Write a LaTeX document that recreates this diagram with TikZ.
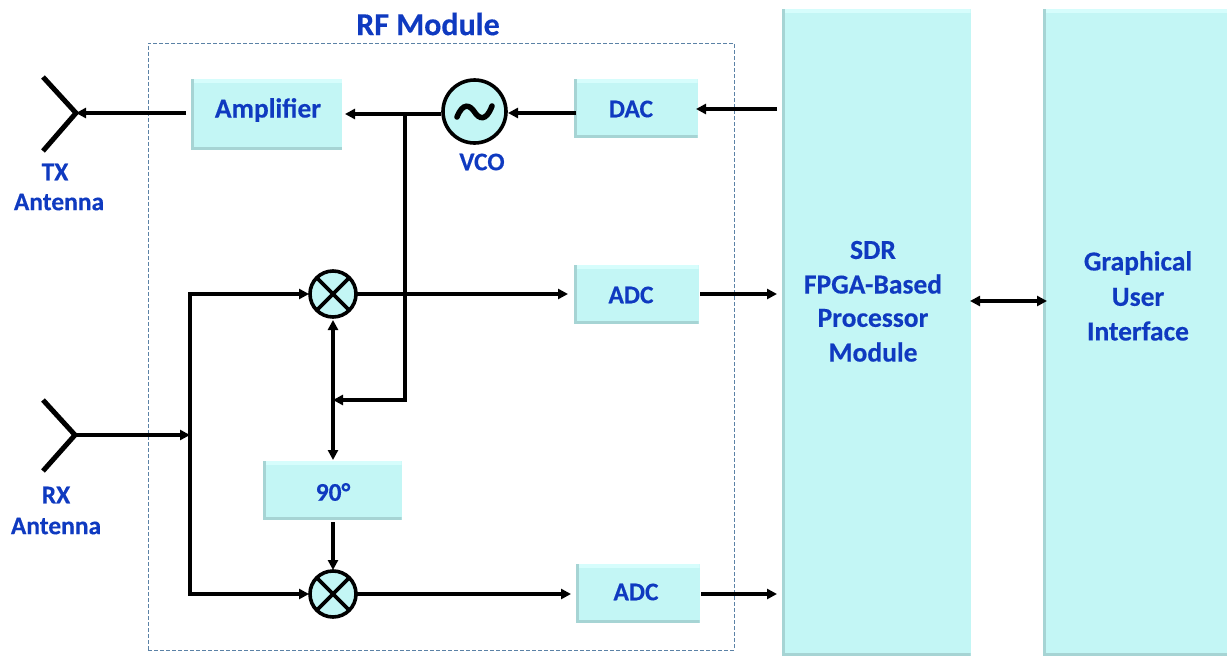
\documentclass[tikz,border=0pt]{standalone}
\usepackage{fontspec}
\setmainfont[BoldFeatures={FakeBold=0.3}]{Carlito}
\usetikzlibrary{arrows.meta,calc}
\definecolor{boxfill}{HTML}{C3F6F5}
\definecolor{boxlight}{HTML}{D6FDFC}
\definecolor{boxdark}{HTML}{A6D4D4}
\definecolor{labelblue}{HTML}{0F3AC0}
\definecolor{dashblue}{HTML}{5B82A6}
\tikzset{
  x=1pt,y=-1pt,
  >={Triangle[length=10pt,width=10pt]},
  conn/.style={line width=3.3pt,black},
  lbl/.style={font=\bfseries\fontsize{27.5}{28}\selectfont,text=labelblue,inner sep=0pt,align=center},
  smalllbl/.style={lbl,font=\bfseries\fontsize{25.5}{26}\selectfont},
  bevelbox/.style={rectangle,draw=none,fill=boxfill,inner sep=0pt,
    path picture={
      \fill[boxlight] (path picture bounding box.north west) rectangle
        ([yshift=-4pt]path picture bounding box.north east);
      \fill[boxdark] (path picture bounding box.south west) rectangle
        ([yshift=3pt]path picture bounding box.south east);
      \fill[boxdark] (path picture bounding box.north west) rectangle
        ([xshift=3pt]path picture bounding box.south west);
    }},
  mixer/.style={circle,draw=black,line width=3.6pt,fill=boxfill,minimum size=46pt,inner sep=0pt,
    path picture={
      \draw[line width=3.6pt] (path picture bounding box.north west)--(path picture bounding box.south east);
      \draw[line width=3.6pt] (path picture bounding box.south west)--(path picture bounding box.north east);
    }},
  osc/.style={circle,draw=black,line width=3.6pt,fill=boxfill,minimum size=63pt,inner sep=0pt},
  ant/.style={line width=5pt,black,line join=miter},
}
\begin{document}
\begin{tikzpicture}
\useasboundingbox (0,0) rectangle (1227,656);
% module frame
\node[draw=dashblue,dash pattern=on 4pt off 2pt,line width=1pt,minimum width=586pt,minimum height=607pt,inner sep=0pt] (frame) at (441,346.5) {};
\node[lbl,font=\bfseries\fontsize{32}{32}\selectfont] (rftitle) at (428,24) {RF Module};
% boxes
\node[bevelbox,minimum width=151pt,minimum height=71pt] (amp) at (266.5,114.5) {};
\node[lbl] (amptxt) at (268,110) {Amplifier};
\node[bevelbox,minimum width=124pt,minimum height=59pt] (dac) at (635.5,108.5) {};
\node[smalllbl] (dactxt) at (631,109) {DAC};
\node[bevelbox,minimum width=125pt,minimum height=59pt] (adca) at (636,294.5) {};
\node[smalllbl] (adcatxt) at (631,295) {ADC};
\node[bevelbox,minimum width=124pt,minimum height=59pt] (adcb) at (637.5,593.5) {};
\node[smalllbl] (adcbtxt) at (636,592) {ADC};
\node[bevelbox,minimum width=139pt,minimum height=59pt] (shift) at (332,490.5) {};
\node[smalllbl] (shifttxt) at (333,492) {90°};
\node[bevelbox,minimum width=189pt,minimum height=647pt] (sdr) at (876,332.5) {};
\node[lbl] (sdr1) at (873,250) {SDR};
\node[lbl] (sdr2) at (873,284) {FPGA-Based};
\node[lbl] (sdr3) at (873,318) {Processor};
\node[lbl] (sdr4) at (873,352) {Module};
\node[bevelbox,minimum width=192pt,minimum height=647pt] (gui) at (1139,332.5) {};
\node[lbl] (gui1) at (1138,263) {Graphical};
\node[lbl] (gui2) at (1138,297) {User};
\node[lbl] (gui3) at (1138,331) {Interface};
% round elements
\node[osc] (vco) at (474.5,111.5) {};
\draw[line width=5.5pt,line cap=round] (457,117) .. controls (463,102) and (470,105) .. (474.5,112) .. controls (479,119) and (486,122) .. (492,106);
\node[smalllbl] (vcotxt) at (482,162) {VCO};
\node[mixer] (mixa) at (333,294) {};
\node[mixer] (mixb) at (333,594) {};
% antennas
\coordinate (txtip) at (76,113);
\coordinate (txa) at (43,77);
\coordinate (txb) at (43,151);
\coordinate (rxtip) at (75,435);
\coordinate (rxa) at (43,400);
\coordinate (rxb) at (43,471);
\draw[ant] (txa)--(txtip)--(txb);
\draw[ant] (rxa)--(rxtip)--(rxb);
\node[smalllbl] (txl1) at (55,172) {TX};
\node[smalllbl] (txl2) at (59,202) {Antenna};
\node[smalllbl] (rxl1) at (56,495) {RX};
\node[smalllbl] (rxl2) at (56,526) {Antenna};
% free coordinates
\coordinate (ampl) at (186,113);
\coordinate (ampr) at (345,114);
\coordinate (vcol) at (441,114);
\coordinate (branch) at (405,114);
\coordinate (bend) at (405,400);
\coordinate (tee) at (333,400);
\coordinate (dacr) at (696,109);
\coordinate (sdrdac) at (777,109);
\coordinate (rxbus) at (190,435);
\coordinate (bustop) at (190,294);
\coordinate (busbot) at (190,594);
\coordinate (sdra) at (777,294);
\coordinate (sdrb) at (777,594);
\coordinate (adcal) at (568,294);
\coordinate (adcbl) at (571,594);
\coordinate (adcar) at (700,294);
\coordinate (adcbr) at (701,594);
\coordinate (sdrgui) at (970,301);
\coordinate (guisdr) at (1047,301);
\coordinate (dacl) at (576,113);
\coordinate (vcor) at (508,113);
\coordinate (mixabot) at (333,320);
\coordinate (shifttop) at (333,460);
\coordinate (shiftbot) at (333,522);
\coordinate (mixbtop) at (333,570);
\coordinate (mixain) at (309,294);
\coordinate (mixbin) at (309,594);
\coordinate (mixaout) at (357,294);
\coordinate (mixbout) at (357,594);
% connectors
\draw[conn,->] (ampl)--(txtip);
\draw[conn,->] (vcol)--(ampr);
\draw[conn,->] (dacl)--(vcor);
\draw[conn,->] (sdrdac)--(dacr);
\draw[conn,->] (branch)--(bend)--(tee);
\draw[conn,<->] (mixabot)--(shifttop);
\draw[conn,->] (shiftbot)--(mixbtop);
\draw[conn,->] (rxtip)--(rxbus);
\draw[conn,line cap=rect] (busbot)--(bustop);
\draw[conn,->] (bustop)--(mixain);
\draw[conn,->] (busbot)--(mixbin);
\draw[conn,->] (mixaout)--(adcal);
\draw[conn,->] (mixbout)--(adcbl);
\draw[conn,->] (adcar)--(sdra);
\draw[conn,->] (adcbr)--(sdrb);
\draw[conn,<->] (sdrgui)--(guisdr);
\end{tikzpicture}
\end{document}
